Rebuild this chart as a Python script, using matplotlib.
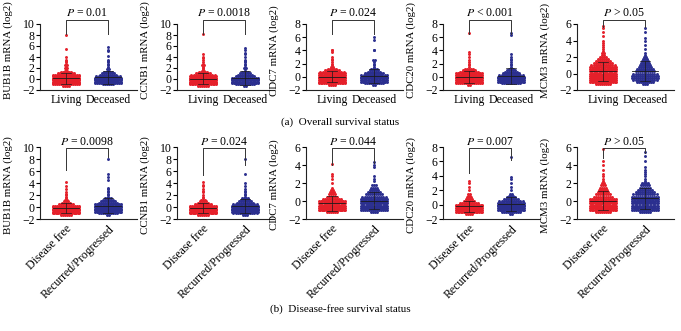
import numpy as np
import matplotlib
matplotlib.use("Agg")
import matplotlib.pyplot as plt

plt.rcParams["font.family"] = ["Liberation Serif", "DejaVu Serif"]
plt.rcParams["mathtext.fontset"] = "stix"

# expression levels (log2) used for the dense core of each group
core_levels = [-1.25, -1.0, -0.75, -0.5, -0.25, 0.0, 0.25, 0.5, 0.75, 1.0, 1.25, 1.5, 1.75, 2.0]

genes = ["BUB1B", "CCNB1", "CDC7", "CDC20", "MCM3"]

# (a) overall survival: counts per core level + individual tail values
os_groups = ["Living", "Deceased"]
os_p = ["= 0.01", "= 0.0018", "= 0.024", "< 0.001", "> 0.05"]
os_ymax = [10, 10, 8, 8, 6]
os_core_a = [
    [4, 14, 26, 34, 38, 34, 28, 20, 14, 9, 6, 0, 0, 0],
    [6, 16, 28, 34, 36, 32, 26, 18, 12, 8, 5, 0, 0, 0],
    [4, 16, 28, 34, 36, 30, 24, 18, 12, 8, 5, 0, 0, 0],
    [2, 14, 30, 38, 40, 32, 24, 16, 10, 7, 5, 0, 0, 0],
    [8, 18, 26, 30, 30, 26, 22, 18, 15, 12, 10, 8, 6, 4],
]
os_tail_a = [
    [1.5, 1.5, 1.75, 2, 2, 2.25, 2.5, 2.5, 2.75, 3, 3.25, 3.5, 4, 5.5, 8],
    [1.5, 1.5, 1.75, 2, 2.25, 2.5, 2.5, 2.75, 3, 3.5, 3.75, 4, 4.5, 8.2],
    [1.5, 1.5, 1.75, 2, 2.25, 2.5, 2.75, 3, 3.75, 4, 4.1],
    [1.5, 1.75, 2, 2.25, 2.5, 3, 3.5, 3.8, 6.7],
    [2.25, 2.25, 2.5, 2.5, 2.75, 3, 3.25, 3.5, 3.75, 4, 4.5, 5, 5.5, 5.8],
]
os_core_b = [
    [0, 6, 14, 18, 20, 18, 16, 12, 9, 7, 5, 0, 0, 0],
    [2, 10, 16, 20, 20, 17, 14, 10, 8, 6, 4, 0, 0, 0],
    [2, 10, 16, 20, 20, 16, 13, 10, 7, 5, 4, 0, 0, 0],
    [0, 10, 18, 22, 20, 16, 12, 9, 7, 5, 3, 0, 0, 0],
    [3, 9, 12, 14, 14, 12, 10, 9, 7, 6, 5, 4, 3, 2],
]
os_tail_b = [
    [1.5, 1.75, 1.75, 2, 2.25, 2.5, 2.75, 3, 3.25, 3.5, 4.2, 5, 5.3, 5.8],
    [1.5, 1.75, 2, 2, 2.25, 2.5, 2.75, 3, 3.25, 3.5, 4, 4.5, 4.8, 5.2, 5.6],
    [1.5, 1.75, 2, 2.25, 2.5, 2.5, 4, 4.1, 5.5, 6],
    [1.5, 1.75, 2, 2.25, 2.5, 2.75, 3, 3.5, 6.4, 6.6],
    [2.25, 2.5, 3, 3.5, 4, 4.3, 5, 5.5],
]

# (b) disease-free survival
dfs_groups = ["Disease free", "Recurred/Progressed"]
dfs_p = ["= 0.0098", "= 0.024", "= 0.044", "= 0.007", "> 0.05"]
dfs_ymax = [10, 10, 6, 8, 6]
dfs_core_a = [
    [6, 20, 30, 30, 28, 22, 14, 8, 5, 3, 2, 0, 0, 0],
    [6, 20, 30, 30, 26, 20, 14, 9, 6, 4, 3, 0, 0, 0],
    [6, 20, 30, 30, 24, 16, 10, 6, 4, 3, 2, 0, 0, 0],
    [4, 18, 30, 32, 28, 18, 10, 6, 4, 3, 2, 2, 0, 0],
    [8, 18, 24, 26, 24, 20, 14, 10, 8, 6, 5, 4, 3, 2],
]
dfs_tail_a = [
    [1.5, 1.75, 2, 2.25, 2.5, 3, 3.5, 4.2],
    [1.5, 1.75, 2, 2.5, 2.75, 3, 3.5, 3.75, 4.2],
    [1.5, 2, 2.5, 2.75, 3, 4.1],
    [2, 2.5, 3, 3.3],
    [2.25, 2.5, 2.75, 3, 3.5, 4, 4.5, 5.8],
]
dfs_core_b = [
    [2, 10, 18, 22, 24, 22, 18, 14, 10, 8, 6, 4, 0, 0],
    [3, 12, 20, 24, 24, 20, 16, 12, 9, 7, 5, 4, 0, 0],
    [4, 14, 20, 24, 24, 20, 16, 12, 9, 7, 5, 4, 3, 0],
    [2, 10, 18, 22, 24, 22, 18, 12, 8, 5, 3, 2, 0, 0],
    [6, 14, 18, 20, 20, 18, 16, 14, 12, 10, 8, 6, 5, 4],
]
dfs_tail_b = [
    [1.75, 2, 2.25, 2.5, 2.75, 3, 3.25, 4.5, 5, 5.5, 8],
    [1.75, 2, 2.25, 2.5, 2.75, 3, 3.5, 4, 5.5, 8],
    [2.25, 2.5, 2.75, 3.75, 4, 4.3],
    [2, 2.5, 3, 3.5, 3.8, 6.6],
    [2.25, 2.5, 2.75, 3, 3.25, 3.5, 3.75, 4.5, 5, 5.5],
]

RED = "#e5202a"
BLUE = "#2b2f8f"

W, H = 681, 331
ax_left_px = [40, 177, 306, 443, 577]
ax_w_px = 97


def expand(core, tail):
    vals = np.repeat(core_levels, core)
    return np.concatenate([vals, np.asarray(tail, float)])


def swarm(vals, center, dx=0.05, half=0.31):
    xs = np.zeros_like(vals)
    for v in np.unique(vals):
        idx = np.where(vals == v)[0]
        n = len(idx)
        step = dx if (n - 1) * dx <= 2 * half else 2 * half / (n - 1)
        xs[idx] = center + (np.arange(n) - (n - 1) / 2) * step
    return xs


def draw_panel(ax, gene, vals_a, vals_b, ymax, ptxt, legs, top_row):
    for pos, vals, col in [(1, vals_a, RED), (2, vals_b, BLUE)]:
        ax.scatter(swarm(vals, pos), vals, s=4.5, color=col, linewidths=0, zorder=2)
        m, sd = vals.mean(), vals.std()
        ax.plot([pos - 0.3, pos + 0.3], [m, m], color="#1a1a1a", lw=0.6, zorder=3)
        ax.plot([pos, pos], [m - sd, m + sd], color="#1a1a1a", lw=0.5, zorder=3)
        for y in (m - sd, m + sd):
            ax.plot([pos - 0.12, pos + 0.12], [y, y], color="#1a1a1a", lw=0.5, zorder=3)

    ax.set_xlim(0.38, 2.69)
    ax.set_ylim(-2, ymax)
    ax.set_yticks(np.arange(-2, ymax + 1, 2))
    for s in ["top", "right"]:
        ax.spines[s].set_visible(False)
    for s in ["left", "bottom"]:
        ax.spines[s].set_linewidth(0.8)
        ax.spines[s].set_color("#222222")
    ax.tick_params(axis="y", length=3, width=0.8, pad=1, labelsize=8.5)
    ax.tick_params(axis="x", length=0, pad=3, labelsize=8.5)
    ax.set_ylabel(f"{gene} mRNA (log2)", fontsize=7.8, labelpad=1)

    # significance bracket
    rng = ymax + 2
    top_frac, text_frac = (1.06, 1.17) if top_row else (0.98, 1.07)
    ytop = -2 + top_frac * rng
    ax.plot([1, 1, 2, 2], [-2 + legs[0] * rng, ytop, ytop, -2 + legs[1] * rng],
            color="#333333", lw=0.7, clip_on=False)
    ax.text(1.5, -2 + text_frac * rng, r"$P$ " + ptxt, ha="center", va="center",
            fontsize=8.5)


fig = plt.figure(figsize=(W / 100, H / 100), dpi=100)

top_legs = [(0.85, 0.85), (0.85, 0.85), (0.85, 0.85), (0.85, 0.85), (0.95, 0.95)]
bot_legs = [(0.68, 0.86), (0.61, 0.75), (0.75, 0.78), (0.64, 0.82), (0.85, 0.92)]

for i, gene in enumerate(genes):
    # top row: overall survival
    ax = fig.add_axes([ax_left_px[i] / W, (H - 90) / H, ax_w_px / W, 66 / H])
    draw_panel(ax, gene, expand(os_core_a[i], os_tail_a[i]), expand(os_core_b[i], os_tail_b[i]),
               os_ymax[i], os_p[i], top_legs[i], True)
    ax.set_xticks([1, 2])
    ax.set_xticklabels(os_groups)
    ax.yaxis.set_label_coords(-0.28, 0.6)

    # bottom row: disease-free survival
    ax = fig.add_axes([ax_left_px[i] / W, (H - 219) / H, ax_w_px / W, 72 / H])
    draw_panel(ax, gene, expand(dfs_core_a[i], dfs_tail_a[i]), expand(dfs_core_b[i], dfs_tail_b[i]),
               dfs_ymax[i], dfs_p[i], bot_legs[i], False)
    ax.set_xticks([1, 2])
    ax.set_xticklabels(dfs_groups, rotation=45, ha="right", va="top", rotation_mode="anchor")
    ax.yaxis.set_label_coords(-0.28, 0.47)

fig.text(0.5, (H - 122) / H, "(a)  Overall survival status", ha="center", va="center", fontsize=8)
fig.text(0.5, (H - 309) / H, "(b)  Disease-free survival status", ha="center", va="center", fontsize=8)

fig.savefig("out.png", dpi=100)
